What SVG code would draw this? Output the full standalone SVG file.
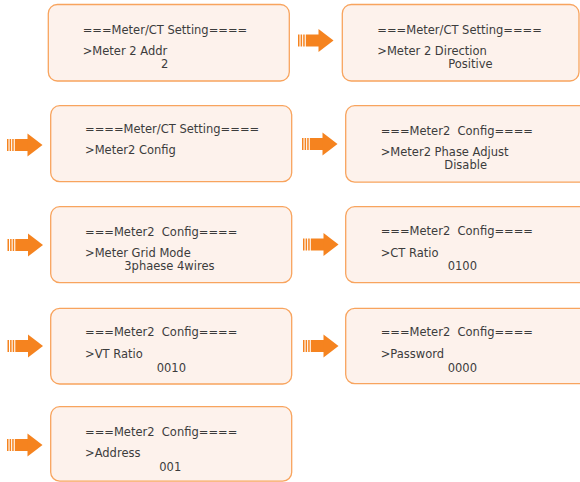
<svg xmlns="http://www.w3.org/2000/svg" xmlns:xlink="http://www.w3.org/1999/xlink" width="580" height="482" viewBox="0 0 580 482" xml:space="preserve">
<style>
.box{fill:#FDF2EC;stroke:#F8A45E;stroke-width:1.3}
text{font-family:"DejaVu Sans","Liberation Sans",sans-serif;font-size:11.5px;fill:#3C3C3C;white-space:pre}
.arr{fill:#F5831F}
</style>
<defs>
<g id="arrow" class="arr">
<rect x="0" y="-6" width="1.5" height="12"/>
<rect x="2.6" y="-6" width="1.5" height="12"/>
<rect x="5.2" y="-6" width="1.5" height="12"/>
<rect x="7.8" y="-6" width="13.2" height="12"/>
<polygon points="20.5,-11.5 35.5,0 20.5,11.5"/>
</g>
</defs>
<rect width="580" height="482" fill="#FFFFFF"/>
<g id="connectors">
<use xlink:href="#arrow" transform="translate(298,40.5)"/>
<use xlink:href="#arrow" transform="translate(7,145)"/>
<use xlink:href="#arrow" transform="translate(302,144)"/>
<use xlink:href="#arrow" transform="translate(7.5,245)"/>
<use xlink:href="#arrow" transform="translate(303,244.5)"/>
<use xlink:href="#arrow" transform="translate(7.5,346)"/>
<use xlink:href="#arrow" transform="translate(303,346)"/>
<use xlink:href="#arrow" transform="translate(7,445)"/>
</g>
<g id="n1">
<rect class="box" x="48.3" y="4.5" width="241" height="76.5" rx="9"/>
<text x="82.7" y="33.5">===Meter/CT Setting====</text>
<text x="82.7" y="55">&gt;Meter 2 Addr</text>
<text x="161" y="68.3">2</text>
</g>
<g id="n2">
<rect class="box" x="342.3" y="4.5" width="236.7" height="76.5" rx="9"/>
<text x="377.3" y="33.5">===Meter/CT Setting====</text>
<text x="377.3" y="55">&gt;Meter 2 Direction</text>
<text x="448.3" y="68.3">Positive</text>
</g>
<g id="n3">
<rect class="box" x="50.7" y="105.7" width="241" height="76" rx="9"/>
<text x="85" y="132.7">====Meter/CT Setting====</text>
<text x="85" y="154.3">&gt;Meter2 Config</text>
</g>
<g id="n4">
<rect class="box" x="345.7" y="105.7" width="245" height="76.5" rx="9"/>
<text x="380.7" y="135">===Meter2  Config====</text>
<text x="380.7" y="156">&gt;Meter2 Phase Adjust</text>
<text x="444.3" y="169.3">Disable</text>
</g>
<g id="n5">
<rect class="box" x="50.7" y="206.7" width="241" height="76" rx="9"/>
<text x="85" y="235.7">===Meter2  Config====</text>
<text x="85" y="257.3">&gt;Meter Grid Mode</text>
<text x="124.3" y="270">3phaese 4wires</text>
</g>
<g id="n6">
<rect class="box" x="345.7" y="206.7" width="245" height="76" rx="9"/>
<text x="380.7" y="235">===Meter2  Config====</text>
<text x="380.7" y="256.7">&gt;CT Ratio</text>
<text x="447.7" y="270">0100</text>
</g>
<g id="n7">
<rect class="box" x="50.7" y="308.3" width="241" height="75.7" rx="9"/>
<text x="85" y="335.7">===Meter2  Config====</text>
<text x="85" y="358.3">&gt;VT Ratio</text>
<text x="156.7" y="371.7">0010</text>
</g>
<g id="n8">
<rect class="box" x="345.7" y="308.3" width="245" height="75.3" rx="9"/>
<text x="380.7" y="335.7">===Meter2  Config====</text>
<text x="380.7" y="358.3">&gt;Password</text>
<text x="447.7" y="371.7">0000</text>
</g>
<g id="n9">
<rect class="box" x="50.7" y="406.7" width="241" height="74.5" rx="9"/>
<text x="85" y="435.7">===Meter2  Config====</text>
<text x="85" y="456.7">&gt;Address</text>
<text x="159.3" y="471">001</text>
</g>
</svg>
